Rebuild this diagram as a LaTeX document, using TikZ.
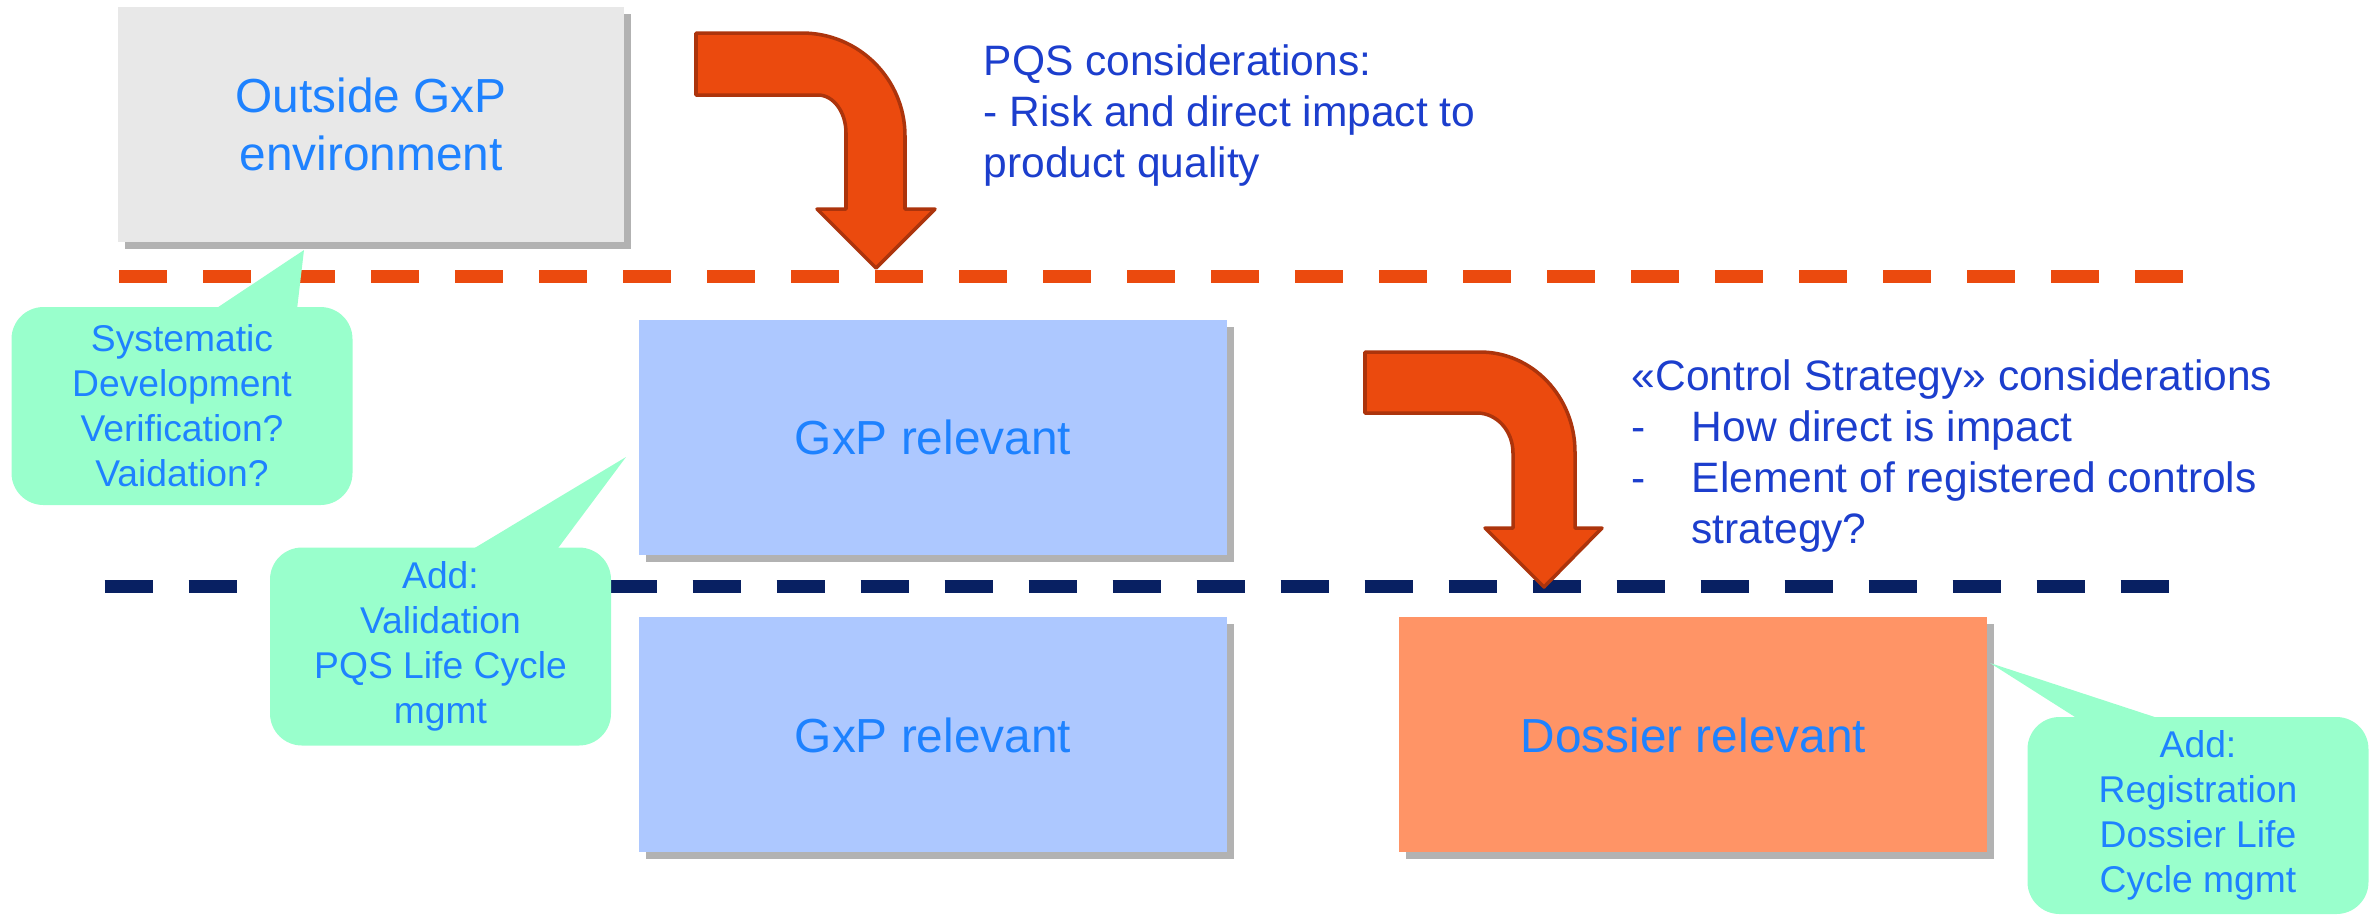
\documentclass[tikz,border=0pt]{standalone}
\usepackage{fontspec}
\setmainfont{Liberation Sans}
\usetikzlibrary{positioning,shadows}

\definecolor{boxblue}{RGB}{30,130,255}
\definecolor{noteblue}{RGB}{28,62,205}
\definecolor{mint}{RGB}{153,255,204}
\definecolor{paleblue}{RGB}{173,200,255}
\definecolor{salmon}{RGB}{255,148,102}
\definecolor{lightgrey}{RGB}{232,232,232}
\definecolor{flame}{RGB}{235,74,14}
\definecolor{rust}{RGB}{172,52,12}
\definecolor{navy}{RGB}{8,32,98}

\tikzset{
  zone/.style={inner sep=0pt, minimum width=5.88cm, minimum height=2.35cm, align=center,
    text=boxblue, font=\fontsize{13.6}{16.5}\selectfont,
    drop shadow={shadow xshift=0.07cm, shadow yshift=-0.07cm, opacity=0.3, fill=black}},
  bubble/.style={fill=mint, rounded corners=0.32cm, inner sep=0pt, minimum width=3.41cm,
    minimum height=1.98cm, align=center, text=boxblue, font=\fontsize{10.6}{12.8}\selectfont},
  pointer/.style={fill=mint},
  bentarrow/.style={fill=flame, draw=rust, line width=1pt, line join=round},
  boundary/.style={line width=0.13cm, dash pattern=on 0.48cm off 0.36cm},
  remark/.style={anchor=north west, inner sep=0pt, align=left, text=noteblue,
    font=\fontsize{12.1}{14.5}\selectfont}
}

\begin{document}
\begin{tikzpicture}
\useasboundingbox (0,0) rectangle (23.77,-9.14);

\draw[boundary, flame] (1.19,-2.76) -- (21.83,-2.76);
\draw[boundary, navy] (1.045,-5.865) -- (21.695,-5.865);

\node[zone, fill=lightgrey, minimum width=5.06cm] (outside) at (3.71,-1.245) {Outside GxP\\environment};
\node[zone, fill=paleblue] (gxpupper) at (9.33,-4.375) {GxP relevant};
\node[zone, fill=paleblue, below=0.61cm of gxpupper] (gxplower) {GxP relevant};
\node[zone, fill=salmon, right=1.71cm of gxplower] (dossier) {Dossier relevant};

\draw[bentarrow] (6.96,-0.33) -- (8.02,-0.33) arc[start angle=90, end angle=0, radius=1.03]
  -- (9.05,-2.09) -- (9.35,-2.09) -- (8.76,-2.68) -- (8.17,-2.09) -- (8.46,-2.09)
  -- (8.46,-1.33) arc[start angle=0, end angle=90, x radius=0.28, y radius=0.38] -- (6.96,-0.95) -- cycle;
\draw[bentarrow] (13.65,-3.52) -- (14.80,-3.52) arc[start angle=90, end angle=0, x radius=0.95, y radius=1.0]
  -- (15.75,-5.28) -- (16.02,-5.28) -- (15.44,-5.87) -- (14.85,-5.28) -- (15.13,-5.28)
  -- (15.13,-4.53) arc[start angle=0, end angle=90, x radius=0.36, y radius=0.40] -- (13.65,-4.13) -- cycle;

\node[remark] (pqs) at (9.83,-0.44) {PQS considerations:\\- Risk and direct impact to\\product quality};
\node[remark] (strategy) at (16.31,-3.59) {«Control Strategy» considerations\\
  \makebox[0.6cm][l]{-}How direct is impact\\
  \makebox[0.6cm][l]{-}Element of registered controls\\
  \hspace*{0.6cm}strategy?};

\node[bubble] (sysnote) at (1.82,-4.06) {Systematic\\Development\\Verification?\\Vaidation?};
\node[bubble] (valnote) at (4.405,-6.465) {Add:\\Validation\\PQS Life Cycle\\mgmt};
\node[bubble, minimum height=1.97cm] (regnote) at (21.98,-8.155) {Add:\\Registration\\Dossier Life\\Cycle mgmt};

\coordinate (systip) at (3.04,-2.50);
\coordinate (valtip) at (6.26,-4.57);
\coordinate (regtip) at (19.90,-6.63);

\fill[pointer] ([xshift=2.01cm,yshift=-0.05cm]sysnote.north west) -- (systip) -- ([xshift=2.86cm,yshift=-0.05cm]sysnote.north west) -- cycle;
\fill[pointer] ([xshift=1.99cm,yshift=-0.05cm]valnote.north west) -- (valtip) -- ([xshift=2.86cm,yshift=-0.05cm]valnote.north west) -- cycle;
\fill[pointer] ([xshift=0.55cm,yshift=-0.05cm]regnote.north west) -- (regtip) -- ([xshift=1.41cm,yshift=-0.05cm]regnote.north west) -- cycle;
\end{tikzpicture}
\end{document}
